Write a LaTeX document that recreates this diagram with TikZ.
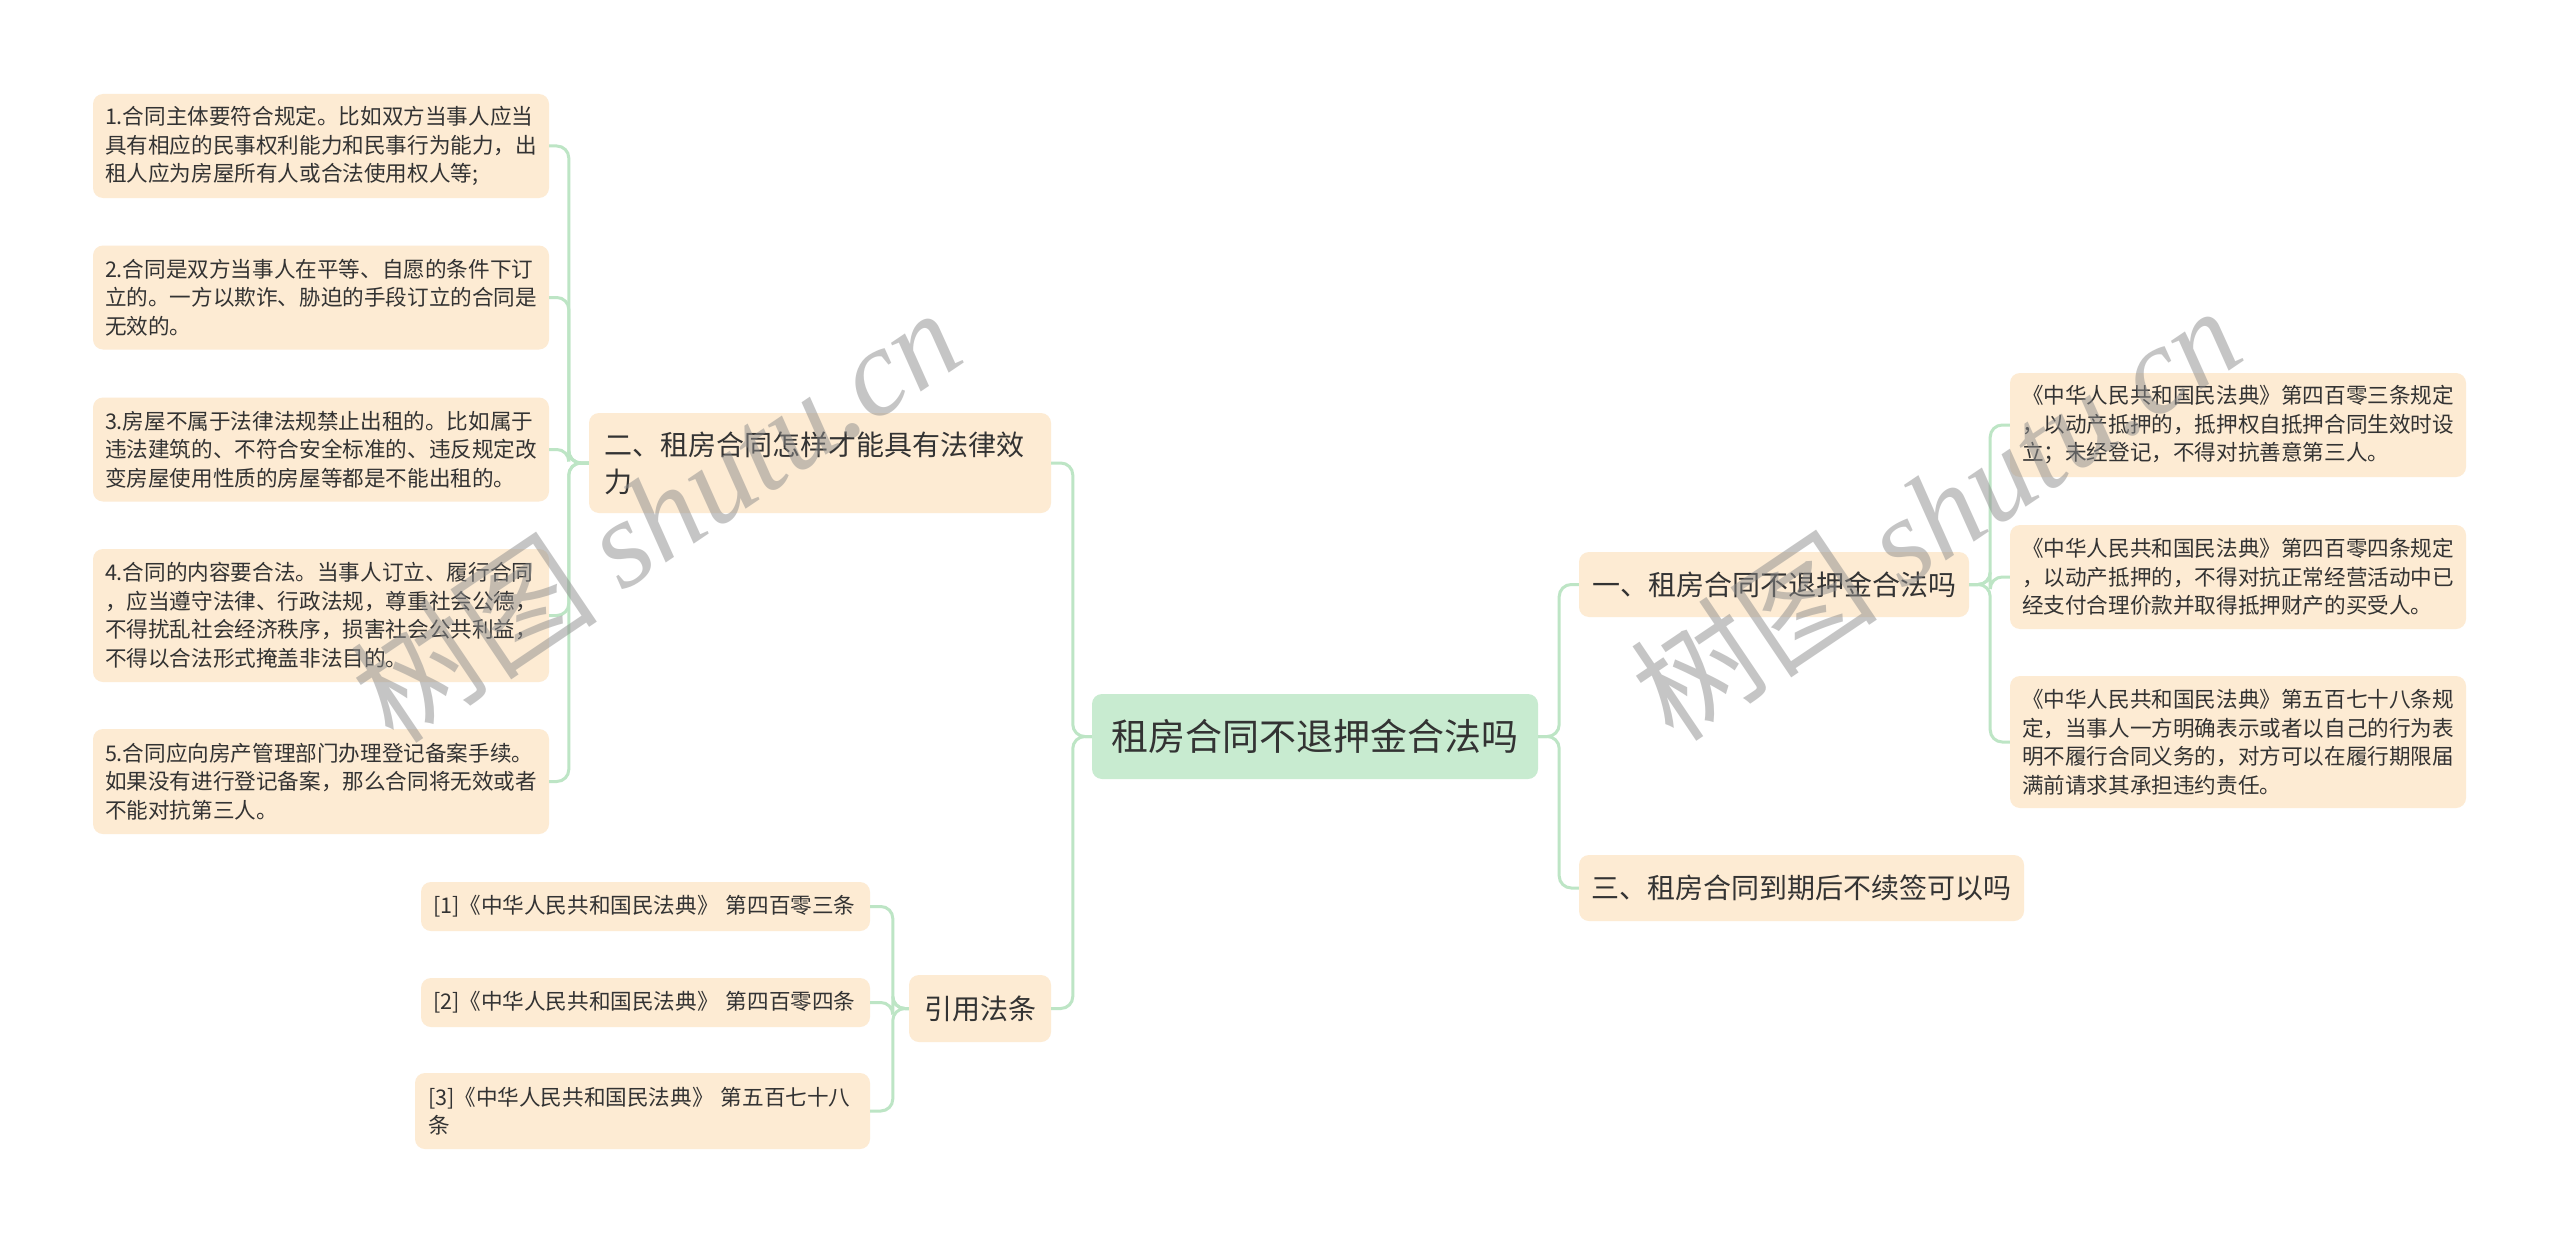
\documentclass[tikz,border=0pt]{standalone}
\usepackage{fontspec}
\setmainfont{Noto Sans CJK SC}
\newfontfamily\wmserif{Liberation Serif}
\usetikzlibrary{calc}
\definecolor{leafc}{HTML}{FDEBD3}
\definecolor{rootc}{HTML}{C8EBD0}
\definecolor{linec}{HTML}{BDE5C5}
\definecolor{txtc}{HTML}{333333}
\begin{document}
\begin{tikzpicture}[x=1pt,y=-1pt,
  basebox/.style={rectangle, rounded corners=10pt, fill=leafc, text=txtc, inner sep=0pt},
  leafbox/.style={basebox, align=left, font=\fontsize{21.6pt}{28.5pt}\selectfont},
  branchbox/.style={basebox, align=center, font=\fontsize{28pt}{37pt}\selectfont},
  rootbox/.style={basebox, fill=rootc, font=\fontsize{37pt}{48pt}\selectfont},
  conn/.style={draw=linec, line width=3pt, rounded corners=12pt},
  wm/.style={text=black!45, text opacity=0.5, font=\fontsize{124pt}{130pt}\selectfont, inner sep=0pt}
]
\useasboundingbox (0,0) rectangle (2560,1244);
\fill[white] (0,0) rectangle (2560,1244);

% root
\node[rootbox, minimum width=446pt, minimum height=85pt] (root) at (1315,736.5) {租房合同不退押金合法吗};

% left branches
\node[branchbox, align=left, text width=432pt, minimum width=462pt, minimum height=100pt] (b2) at (820,463) {二、租房合同怎样才能具有法律效\\力};
\node[branchbox, minimum width=142pt, minimum height=67pt] (bc) at (980,1008.5) {引用法条};

% right branches
\node[branchbox, minimum width=390pt, minimum height=65pt] (b1) at (1774,584.5) {一、租房合同不退押金合法吗};
\node[branchbox, minimum width=445pt, minimum height=66pt] (b3) at (1801.5,888) {三、租房合同到期后不续签可以吗};

% leaves of b2
\node[leafbox, text width=432pt, minimum width=456pt, minimum height=104pt] (l1) at (321,146) {1.合同主体要符合规定。比如双方当事人应当\\具有相应的民事权利能力和民事行为能力，出\\租人应为房屋所有人或合法使用权人等;};
\node[leafbox, text width=432pt, minimum width=456pt, minimum height=104pt] (l2) at (321,297.5) {2.合同是双方当事人在平等、自愿的条件下订\\立的。一方以欺诈、胁迫的手段订立的合同是\\无效的。};
\node[leafbox, text width=432pt, minimum width=456pt, minimum height=104pt] (l3) at (321,449.5) {3.房屋不属于法律法规禁止出租的。比如属于\\违法建筑的、不符合安全标准的、违反规定改\\变房屋使用性质的房屋等都是不能出租的。};
\node[leafbox, text width=432pt, minimum width=456pt, minimum height=133pt] (l4) at (321,615.5) {4.合同的内容要合法。当事人订立、履行合同\\，应当遵守法律、行政法规，尊重社会公德，\\不得扰乱社会经济秩序，损害社会公共利益，\\不得以合法形式掩盖非法目的。};
\node[leafbox, text width=432pt, minimum width=456pt, minimum height=105pt] (l5) at (321,781.5) {5.合同应向房产管理部门办理登记备案手续。\\如果没有进行登记备案，那么合同将无效或者\\不能对抗第三人。};

% citations
\node[leafbox, text width=425pt, minimum width=449pt, minimum height=49pt] (c1) at (645.5,906.5) {[1]《中华人民共和国民法典》 第四百零三条};
\node[leafbox, text width=425pt, minimum width=449pt, minimum height=49pt] (c2) at (645.5,1002.5) {[2]《中华人民共和国民法典》 第四百零四条};
\node[leafbox, text width=429pt, minimum width=455pt, minimum height=76pt] (c3) at (642.5,1111) {[3]《中华人民共和国民法典》 第五百七十八\\条};

% leaves of b1
\node[leafbox, text width=432pt, minimum width=456pt, minimum height=104pt] (r1) at (2238,425) {《中华人民共和国民法典》第四百零三条规定\\，以动产抵押的，抵押权自抵押合同生效时设\\立；未经登记，不得对抗善意第三人。};
\node[leafbox, text width=432pt, minimum width=456pt, minimum height=104pt] (r2) at (2238,577) {《中华人民共和国民法典》第四百零四条规定\\，以动产抵押的，不得对抗正常经营活动中已\\经支付合理价款并取得抵押财产的买受人。};
\node[leafbox, text width=432pt, minimum width=456pt, minimum height=132pt] (r3) at (2238,742) {《中华人民共和国民法典》第五百七十八条规\\定，当事人一方明确表示或者以自己的行为表\\明不履行合同义务的，对方可以在履行期限届\\满前请求其承担违约责任。};

% trunk coordinates
\coordinate (tRootL) at ($(root.west)+(-19,0)$);
\coordinate (tRootR) at ($(root.east)+(21,0)$);
\coordinate (tB2) at ($(b2.west)+(-20,0)$);
\coordinate (tBC) at ($(bc.west)+(-16,0)$);
\coordinate (tB1) at ($(b1.east)+(21,0)$);

% connectors
\draw[conn] (root.west) -- (tRootL) |- (b2.east);
\draw[conn] (root.west) -- (tRootL) |- (bc.east);
\draw[conn] (root.east) -- (tRootR) |- (b1.west);
\draw[conn] (root.east) -- (tRootR) |- (b3.west);
\foreach \c in {l1,l2,l3,l4,l5}{
  \draw[conn] (b2.west) -- (tB2) |- (\c.east);
}
\foreach \c in {c1,c2,c3}{
  \draw[conn] (bc.west) -- (tBC) |- (\c.east);
}
\foreach \c in {r1,r2,r3}{
  \draw[conn] (b1.east) -- (tB1) |- (\c.west);
}

% watermarks
\node[wm, rotate=34] (wm1) at (655,514) {树图 {\wmserif\itshape shutu.cn}};
\node[wm, rotate=34] (wm2) at (1935,512) {树图 {\wmserif\itshape shutu.cn}};
\end{tikzpicture}
\end{document}
